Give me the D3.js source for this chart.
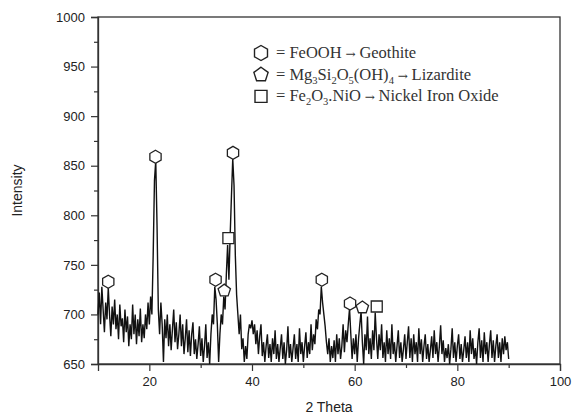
<!DOCTYPE html>
<html>
<head>
<meta charset="utf-8">
<script src="https://cdn.jsdelivr.net/npm/d3@7/dist/d3.min.js"></script>
<style>
  body { margin: 0; background: #fff; }
  .tick text { font-family: "Liberation Sans", Arial, sans-serif; font-size: 13px; fill: #222; }
  .axis-title { font-family: "Liberation Sans", Arial, sans-serif; font-size: 14px; fill: #222; }
  .legend-text { font-family: "Liberation Serif", "Times New Roman", serif; font-size: 16.5px; fill: #333; }
  .arrow { font-family: "DejaVu Serif", serif; font-size: 12px; }
</style>
</head>
<body>
<svg id="chart"></svg>
<script>
// 2 theta grid: start 10, step 0.25, up to 90
const angleStart = 10
const angleStep = 0.25

// intensity, 8 values (2 degrees) per line
const intensity = [
  700, 722, 690, 728, 705, 682, 712, 695,
  727, 700, 678, 708, 690, 715, 685, 700,
  675, 710, 688, 696, 672, 705, 682, 698,
  668, 690, 675, 710, 680, 700, 670, 695,
  678, 706, 672, 690, 676, 700, 685, 712,
  // 20
  690, 718, 700, 760, 835, 855, 790, 705,
  680, 712, 690, 652, 695, 676, 700, 668,
  690, 664, 685, 705, 672, 692, 665, 680,
  700, 668, 690, 660, 676, 695, 662, 684,
  658, 680, 692, 660, 675, 655, 670, 688,
  // 30
  658, 676, 652, 668, 690, 656, 672, 650,
  680, 700, 690, 728, 715, 690, 652, 680,
  700, 690, 718, 705, 740, 770, 735, 780,
  820, 857, 830, 760, 720, 700, 680, 700,
  665, 676, 652, 668, 655, 680, 690, 686,
  // 40
  694, 680, 690, 670, 684, 660, 678, 690,
  658, 672, 652, 668, 680, 656, 670, 652,
  676, 660, 684, 655, 670, 652, 666, 680,
  655, 672, 650, 664, 688, 656, 670, 652,
  666, 680, 655, 670, 652, 686, 660, 672,
  // 50
  652, 668, 682, 656, 672, 660, 690, 664,
  680, 670, 695, 685, 705, 700, 728, 712,
  700, 688, 672, 660, 676, 652, 668, 656,
  674, 652, 680, 660, 676, 655, 668, 690,
  662, 684, 672, 690, 706, 680, 655, 676,
  // 60
  660, 680, 652, 675, 690, 703, 672, 650,
  680, 664, 698, 660, 676, 655, 684, 664,
  702, 676, 655, 680, 664, 690, 656, 672,
  652, 684, 660, 676, 655, 690, 660, 672,
  652, 668, 684, 656, 672, 652, 665, 680,
  // 70
  655, 672, 688, 656, 676, 652, 680, 660,
  672, 652, 686, 660, 675, 652, 668, 680,
  655, 670, 652, 664, 678, 656, 684, 660,
  672, 652, 668, 689, 660, 674, 652, 666,
  656, 670, 650, 665, 686, 656, 672, 652,
  // 80
  668, 680, 655, 670, 652, 664, 678, 656,
  672, 652, 684, 660, 676, 655, 666, 650,
  672, 686, 656, 674, 652, 682, 660, 672,
  652, 670, 684, 656, 674, 652, 668, 680,
  656, 672, 652, 676, 660, 678, 664, 672,
  655
]

// phase markers placed above the peaks
const markerAngle = [12, 21.2, 32.9, 36.3, 53.6, 59.1, 34.6, 61.5, 35.4, 64.3]
const markerValue = [733, 859, 735, 863, 735, 711, 724, 707, 777, 708]
const markerType  = ['hex', 'hex', 'hex', 'hex', 'hex', 'hex', 'pent', 'pent', 'sq', 'sq']

// legend: [text, subscript] pieces before the arrow
const legendType = ['hex', 'pent', 'sq']
const legendFormula = [
  [['= FeOOH', '']],
  [['= Mg', '3'], ['Si', '2'], ['O', '5'], ['(OH)', '4']],
  [['= Fe', '2'], ['O', '3'], ['.NiO', '']]
]
const legendMineral = ['Geothite', 'Lizardite', 'Nickel Iron Oxide']

const xTicks = [20, 40, 60, 80, 100]
const yTicks = [650, 700, 750, 800, 850, 900, 950, 1000]

const width = 575, height = 415
const margin = {top: 17, right: 15, bottom: 51, left: 98}
const w = width - margin.left - margin.right
const h = height - margin.top - margin.bottom

const svg = d3.select('#chart')
  .attr('width', width)
  .attr('height', height)

const g = svg.append('g')
  .attr('transform', `translate(${margin.left},${margin.top})`)

const x = d3.scaleLinear().domain([10, 100]).range([0, w])
const y = d3.scaleLinear().domain([650, 1000]).range([h, 0])

const data = intensity.map((v, i) => ({t: angleStart + i * angleStep, v: v}))

// frame
g.append('rect')
  .attr('width', w).attr('height', h)
  .attr('fill', 'none').attr('stroke', '#333').attr('stroke-width', 1.3)

// minor ticks
g.append('g')
  .attr('transform', `translate(0,${h})`)
  .call(d3.axisBottom(x).tickValues([30, 50, 70, 90]).tickSize(4).tickFormat(''))
  .call(a => a.select('.domain').remove())
g.append('g')
  .call(d3.axisLeft(y).tickValues([675, 725, 775, 825, 875, 925, 975]).tickSize(4).tickFormat(''))
  .call(a => a.select('.domain').remove())

// major axes
const xAxisG = g.append('g')
  .attr('transform', `translate(0,${h})`)
  .call(d3.axisBottom(x).tickValues(xTicks).tickSize(7).tickPadding(6).tickFormat(d3.format('d')))
xAxisG.select('.domain').attr('stroke', '#333').attr('stroke-width', 1.3)

const yAxisG = g.append('g')
  .call(d3.axisLeft(y).tickValues(yTicks).tickSize(7).tickPadding(6).tickFormat(d3.format('d')))
yAxisG.select('.domain').attr('stroke', '#333').attr('stroke-width', 1.3)

g.selectAll('.tick line').attr('stroke', '#333').attr('stroke-width', 1.2)

// pattern
const line = d3.line().x(d => x(d.t)).y(d => y(d.v))
g.append('path')
  .datum(data)
  .attr('d', line)
  .attr('fill', 'none')
  .attr('stroke', '#111')
  .attr('stroke-width', 1.4)
  .attr('stroke-linejoin', 'miter')

// marker shapes
function shapePath(type, r) {
  let n = type === 'hex' ? 6 : 5
  if (type === 'sq') {
    return `M${-r},${-r}H${r}V${r}H${-r}Z`
  }
  let pts = d3.range(n).map(k => {
    let a = -Math.PI / 2 + k * 2 * Math.PI / n
    return [r * Math.cos(a), r * Math.sin(a)]
  })
  return 'M' + pts.map(p => p.join(',')).join('L') + 'Z'
}

g.selectAll('.marker')
  .data(markerAngle)
  .join('path')
    .attr('class', 'marker')
    .attr('transform', (d, i) => `translate(${x(d)},${y(markerValue[i])})`)
    .attr('d', (d, i) => shapePath(markerType[i], markerType[i] === 'sq' ? 5.5 : 6.5))
    .attr('fill', '#fff')
    .attr('stroke', '#222')
    .attr('stroke-width', 1.3)

// legend
const legend = svg.append('g').attr('transform', 'translate(261,53)')
const legendRows = legend.selectAll('g')
  .data(legendType)
  .join('g')
    .attr('transform', (d, i) => `translate(0,${i * 21.7})`)
legendRows.append('path')
  .attr('d', d => shapePath(d, d === 'sq' ? 6 : 7.5))
  .attr('fill', '#fff')
  .attr('stroke', '#222')
  .attr('stroke-width', 1.4)

legendRows.append('text')
  .attr('class', 'legend-text')
  .attr('x', 15)
  .attr('y', 5)
  .each(function(d, i) {
    let t = d3.select(this)
    let shift = 0
    const put = (txt, off) => {
      let s = t.append('tspan').attr('dy', off - shift).text(txt)
      shift = off
      return s
    }
    legendFormula[i].forEach(p => {
      put(p[0], 0)
      if (p[1]) put(p[1], 4).attr('font-size', '10.5px')
    })
    put(' \u2192 ', 0).attr('class', 'arrow')
    put(legendMineral[i], 0)
  })

// axis titles
svg.append('text')
  .attr('class', 'axis-title')
  .attr('x', margin.left + w / 2)
  .attr('y', 412)
  .attr('text-anchor', 'middle')
  .text('2 Theta')

svg.append('text')
  .attr('class', 'axis-title')
  .attr('transform', `translate(22,${margin.top + h / 2}) rotate(-90)`)
  .attr('text-anchor', 'middle')
  .text('Intensity')
</script>
</body>
</html>
